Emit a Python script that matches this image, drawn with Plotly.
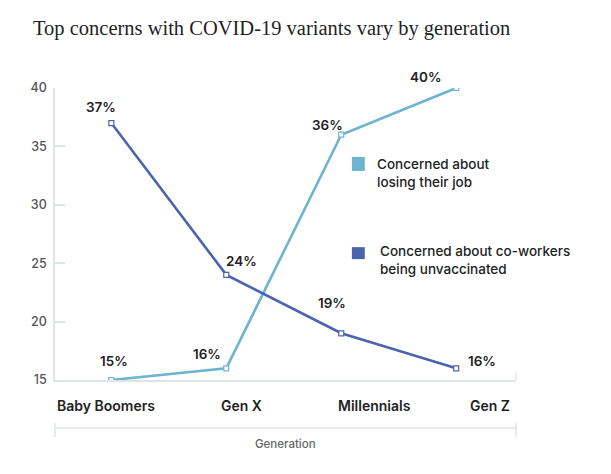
import plotly.graph_objects as go

categories = ["Baby Boomers", "Gen X", "Millennials", "Gen Z"]
job_values = [15, 16, 36, 40]
coworker_values = [37, 24, 19, 16]
job_name = "Concerned about<br>losing their job"
coworker_name = "Concerned about co-workers<br>being unvaccinated"
y_ticks = [15, 20, 25, 30, 35, 40]

LIGHT = "#6cb4cf"
DARK = "#4b64ad"
AXIS = "#dfe4ea"
TXT = "#222222"
FONT = "Inter"

x_idx = list(range(len(categories)))

fig = go.Figure()
for vals, col in [(job_values, LIGHT), (coworker_values, DARK)]:
    fig.add_trace(go.Scatter(
        x=x_idx, y=vals, mode="lines+markers",
        line=dict(color=col, width=2.6),
        marker=dict(symbol="square", size=5, color="white", line=dict(color=col, width=1.2)),
        showlegend=False, hoverinfo="skip",
    ))

# data labels (offsets are style only)
job_off = [(3, 19), (-19, 14), (-14, 10), (-31, 11)]
cow_off = [(-10, 16), (15, 14), (-9, 30), (26, 7)]
anns = []
for vals, offs in [(job_values, job_off), (coworker_values, cow_off)]:
    for i, v in enumerate(vals):
        anns.append(dict(x=i, y=v, xref="x", yref="y", text=f"{v}%", showarrow=False,
                         xshift=offs[i][0], yshift=offs[i][1],
                         font=dict(family=FONT, size=13.5, color=TXT, weight=600)))

# category labels
cat_shift = [-5, 15, 33, 34]
for i, c in enumerate(categories):
    anns.append(dict(x=i, y=0, xref="x", yref="paper", text=c, showarrow=False,
                     xshift=cat_shift[i], yshift=-25, yanchor="middle",
                     font=dict(family=FONT, size=14, color=TXT, weight=600)))

# legend
anns.append(dict(x=0.694, y=0.71, xref="paper", yref="paper", text=job_name, showarrow=False,
                 xanchor="left", yanchor="middle", align="left",
                 font=dict(family=FONT, size=13.5, color=TXT, weight=500)))
anns.append(dict(x=0.70, y=0.411, xref="paper", yref="paper", text=coworker_name, showarrow=False,
                 xanchor="left", yanchor="middle", align="left",
                 font=dict(family=FONT, size=13.5, color=TXT, weight=500)))

# axis title
anns.append(dict(x=0.5, y=-0.219, xref="paper", yref="paper", text="Generation", showarrow=False,
                 yanchor="middle", font=dict(family=FONT, size=11.5, color="#666666", weight=500)))

shapes = [
    dict(type="rect", xref="paper", yref="paper", x0=0.644, x1=0.672, y0=0.716, y1=0.764,
         fillcolor=LIGHT, line=dict(width=0)),
    dict(type="rect", xref="paper", yref="paper", x0=0.644, x1=0.672, y0=0.414, y1=0.455,
         fillcolor=DARK, line=dict(width=0)),
    dict(type="line", xref="paper", yref="paper", x0=0, x1=1, y0=-0.164, y1=-0.164,
         line=dict(color=AXIS, width=1.5)),
    dict(type="line", xref="paper", yref="paper", x0=0, x1=0, y0=-0.147, y1=-0.195,
         line=dict(color=AXIS, width=1.5)),
    dict(type="line", xref="paper", yref="paper", x0=1, x1=1, y0=-0.147, y1=-0.195,
         line=dict(color=AXIS, width=1.5)),
    dict(type="line", xref="paper", yref="paper", x0=1, x1=1, y0=0, y1=0.025,
         line=dict(color=AXIS, width=1.5)),
]

fig.update_layout(
    width=611, height=474,
    margin=dict(l=55, r=95, t=88, b=94),
    paper_bgcolor="white", plot_bgcolor="white",
    title=dict(text="Top concerns with COVID-19 variants vary by generation",
               x=0.054, xanchor="left", y=0.942, yanchor="middle",
               font=dict(family="Liberation Serif", size=20.5, color="#1f1f1f")),
    annotations=anns, shapes=shapes,
    xaxis=dict(range=[-0.49, 3.52], showgrid=False, zeroline=False,
               showline=True, linecolor=AXIS, linewidth=1.5,
               tickvals=x_idx, showticklabels=False, ticks=""),
    yaxis=dict(range=[15, 40], tickvals=y_ticks, showgrid=False, zeroline=False,
               showline=True, linecolor=AXIS, linewidth=1.5,
               ticks="inside", ticklen=10, tickcolor=AXIS, tickwidth=1.5,
               ticklabelstandoff=4,
               tickfont=dict(family=FONT, size=12.5, color="#555555", weight=500)),
)

fig.write_html("out.html", config={"displayModeBar": False},
               post_script="document.body.style.margin='0';")
